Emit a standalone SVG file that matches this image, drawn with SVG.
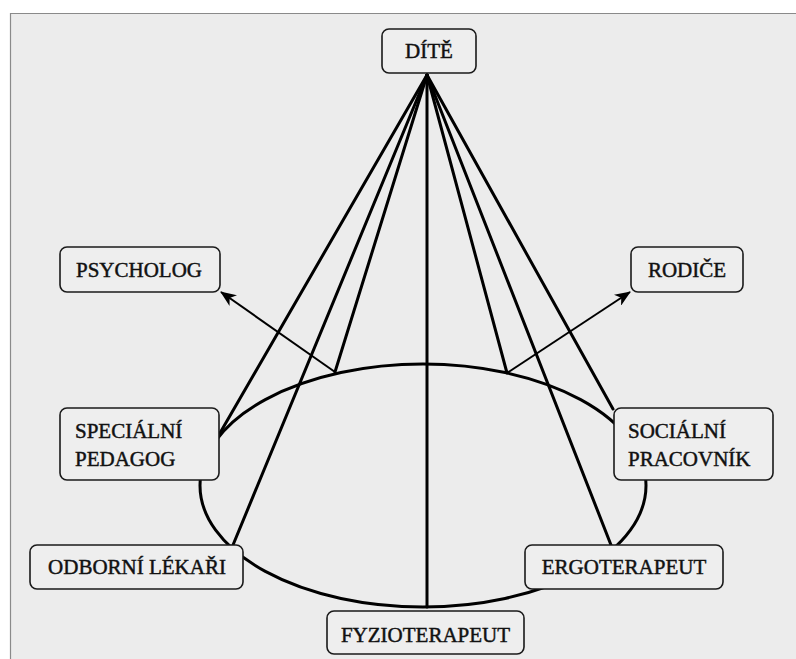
<svg xmlns="http://www.w3.org/2000/svg" width="796" height="659" viewBox="0 0 796 659">
<style>
.box{fill:#eeeeee;stroke:#1a1a1a;stroke-width:1.6}
.lbl{font-family:"Liberation Serif","DejaVu Serif",serif;font-size:21px;fill:#111;stroke:#111;stroke-width:0.45}
.ray{stroke:#000;stroke-width:3;fill:none;stroke-linecap:round}
.arr{stroke:#000;stroke-width:2;fill:none}
</style>
<defs>
<marker id="ah" viewBox="0 0 16 13" refX="15" refY="6.5" markerWidth="16" markerHeight="13" markerUnits="userSpaceOnUse" orient="auto">
<path d="M0,0 L16,6.5 L0,13 L4.5,6.5 Z" fill="#000"/>
</marker>
</defs>
<rect x="0" y="0" width="796" height="659" fill="#ffffff"/>
<rect x="10" y="13" width="800" height="660" fill="#ececec"/>
<path d="M10.5,659 V13.5 H796" fill="none" stroke="#8a8a8a" stroke-width="1.2"/>
<g id="connectors">
<ellipse cx="423" cy="485.5" rx="223" ry="121.5" class="ray"/>
<line x1="427" y1="75" x2="220" y2="433" class="ray"/>
<line x1="427" y1="75" x2="233" y2="545" class="ray"/>
<line x1="427" y1="75" x2="335" y2="372" class="ray"/>
<line x1="427" y1="75" x2="427" y2="607" class="ray"/>
<line x1="427" y1="75" x2="507" y2="373" class="ray"/>
<line x1="427" y1="75" x2="611" y2="545" class="ray"/>
<line x1="427" y1="75" x2="613" y2="409" class="ray"/>
<line x1="335" y1="372" x2="221" y2="292" class="arr" marker-end="url(#ah)"/>
<line x1="507" y1="373" x2="630" y2="292" class="arr" marker-end="url(#ah)"/>
</g>
<g id="dite"><rect class="box" x="382" y="29" width="94" height="44" rx="7"/><text class="lbl" x="429" y="58" text-anchor="middle">DÍTĚ</text></g>
<g id="psycholog"><rect class="box" x="60" y="247" width="160" height="45" rx="7"/><text class="lbl" x="139" y="277" text-anchor="middle">PSYCHOLOG</text></g>
<g id="rodice"><rect class="box" x="631" y="247" width="112" height="45" rx="7"/><text class="lbl" x="687" y="277" text-anchor="middle">RODIČE</text></g>
<g id="specialni-pedagog"><rect class="box" x="60" y="408" width="159" height="72" rx="7"/><text class="lbl" x="75" y="438">SPECIÁLNÍ</text><text class="lbl" x="75" y="466">PEDAGOG</text></g>
<g id="socialni-pracovnik"><rect class="box" x="614" y="408" width="159" height="72" rx="7"/><text class="lbl" x="628" y="438">SOCIÁLNÍ</text><text class="lbl" x="628" y="466">PRACOVNÍK</text></g>
<g id="odborni-lekari"><rect class="box" x="30" y="545" width="213" height="44" rx="7"/><text class="lbl" x="137" y="574" text-anchor="middle">ODBORNÍ LÉKAŘI</text></g>
<g id="ergoterapeut"><rect class="box" x="525" y="545" width="198" height="44" rx="7"/><text class="lbl" x="624" y="574" text-anchor="middle">ERGOTERAPEUT</text></g>
<g id="fyzioterapeut"><rect class="box" x="327" y="611" width="197" height="43" rx="7"/><text class="lbl" x="425.5" y="642" text-anchor="middle">FYZIOTERAPEUT</text></g>
</svg>
